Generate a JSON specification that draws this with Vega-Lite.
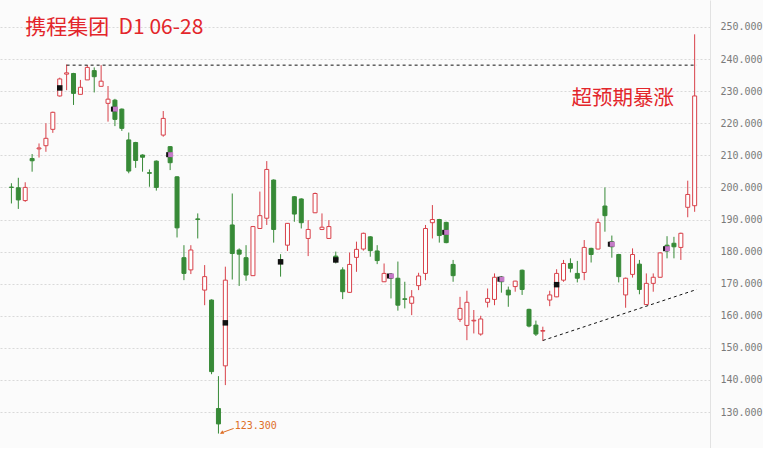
{
  "$schema": "https://vega.github.io/schema/vega-lite/v6.json",
  "width": 710,
  "height": 448,
  "padding": 0,
  "background": "#fbfbfb",
  "config": {
    "view": {"stroke": null},
    "axisX": {"labels": false, "ticks": false, "grid": false, "domainColor": "#dddddd", "title": null},
    "axisY": {"title": null, "labelOverlap": false, "labelBound": false}
  },
  "resolve": {"axis": {"y": "independent"}},
  "datasets": {
    "candles": [
      {"i":0,"o":200.1,"h":201.3,"l":195.0,"c":200.0,"t":"d"},
      {"i":1,"o":199.9,"h":203.0,"l":193.3,"c":196.1,"t":"d"},
      {"i":2,"o":195.9,"h":201.6,"l":195.5,"c":200.0,"t":"u"},
      {"i":3,"o":209.0,"h":210.4,"l":204.9,"c":208.3,"t":"d"},
      {"i":4,"o":212.0,"h":213.7,"l":209.3,"c":212.3,"t":"u"},
      {"i":5,"o":213.0,"h":220.0,"l":211.1,"c":215.3,"t":"u"},
      {"i":6,"o":218.1,"h":223.6,"l":217.0,"c":223.4,"t":"u"},
      {"i":7,"o":228.5,"h":234.2,"l":228.3,"c":233.8,"t":"u","m":231.0,"s":"k"},
      {"i":8,"o":235.3,"h":238.3,"l":230.3,"c":235.7,"t":"u"},
      {"i":9,"o":235.5,"h":235.7,"l":225.7,"c":229.3,"t":"d"},
      {"i":10,"o":229.0,"h":233.5,"l":229.0,"c":231.2,"t":"u"},
      {"i":11,"o":233.5,"h":238.1,"l":233.5,"c":237.4,"t":"u"},
      {"i":12,"o":236.4,"h":237.4,"l":229.6,"c":234.5,"t":"d"},
      {"i":13,"o":231.5,"h":238.1,"l":231.5,"c":233.1,"t":"u"},
      {"i":14,"o":226.2,"h":231.6,"l":220.5,"c":227.5,"t":"u"},
      {"i":15,"o":227.2,"h":227.6,"l":219.1,"c":221.2,"t":"d","m":224.4,"s":"p"},
      {"i":16,"o":224.4,"h":224.6,"l":217.6,"c":218.4,"t":"d"},
      {"i":17,"o":214.8,"h":217.1,"l":204.4,"c":205.1,"t":"d"},
      {"i":18,"o":214.0,"h":214.2,"l":206.1,"c":208.4,"t":"d"},
      {"i":19,"o":210.1,"h":210.3,"l":204.9,"c":209.4,"t":"d"},
      {"i":20,"o":204.6,"h":205.6,"l":200.2,"c":204.4,"t":"d"},
      {"i":21,"o":208.2,"h":208.4,"l":199.0,"c":200.0,"t":"d"},
      {"i":22,"o":216.3,"h":223.8,"l":215.8,"c":221.5,"t":"u"},
      {"i":23,"o":212.7,"h":212.9,"l":205.4,"c":207.7,"t":"d","m":210.2,"s":"p"},
      {"i":24,"o":203.3,"h":203.5,"l":184.4,"c":187.4,"t":"d"},
      {"i":25,"o":178.1,"h":182.0,"l":171.1,"c":173.2,"t":"d"},
      {"i":26,"o":174.3,"h":182.0,"l":173.0,"c":180.5,"t":"u"},
      {"i":27,"o":190.2,"h":191.9,"l":184.1,"c":190.0,"t":"d"},
      {"i":28,"o":168.0,"h":175.8,"l":163.3,"c":172.2,"t":"u"},
      {"i":29,"o":164.9,"h":165.1,"l":141.8,"c":142.6,"t":"d"},
      {"i":30,"o":131.1,"h":141.2,"l":123.3,"c":126.3,"t":"d"},
      {"i":31,"o":144.4,"h":175.3,"l":138.4,"c":171.1,"t":"u","m":157.8,"s":"k"},
      {"i":32,"o":188.3,"h":198.1,"l":171.3,"c":179.4,"t":"d"},
      {"i":33,"o":180.5,"h":181.0,"l":169.3,"c":179.2,"t":"d"},
      {"i":34,"o":178.1,"h":182.0,"l":170.9,"c":172.7,"t":"d"},
      {"i":35,"o":172.5,"h":188.0,"l":172.5,"c":187.8,"t":"u"},
      {"i":36,"o":187.2,"h":198.7,"l":187.2,"c":191.2,"t":"u"},
      {"i":37,"o":190.4,"h":208.2,"l":188.3,"c":205.6,"t":"u"},
      {"i":38,"o":202.3,"h":202.5,"l":182.8,"c":186.9,"t":"d"},
      {"i":39,"o":177.4,"h":179.2,"l":172.2,"c":176.4,"t":"d","m":176.8,"s":"k"},
      {"i":40,"o":182.0,"h":188.9,"l":180.2,"c":188.8,"t":"u"},
      {"i":41,"o":197.1,"h":197.3,"l":189.3,"c":191.7,"t":"d"},
      {"i":42,"o":196.4,"h":196.6,"l":187.2,"c":189.0,"t":"d"},
      {"i":43,"o":184.1,"h":189.8,"l":178.6,"c":186.9,"t":"u"},
      {"i":44,"o":192.1,"h":198.4,"l":192.0,"c":198.1,"t":"u"},
      {"i":45,"o":186.9,"h":191.9,"l":186.7,"c":187.6,"t":"u"},
      {"i":46,"o":184.1,"h":189.8,"l":184.0,"c":187.8,"t":"u"},
      {"i":47,"o":178.6,"h":180.0,"l":176.3,"c":177.4,"t":"d","m":177.4,"s":"k"},
      {"i":48,"o":174.3,"h":175.1,"l":165.2,"c":167.5,"t":"d"},
      {"i":49,"o":167.3,"h":179.7,"l":167.2,"c":176.0,"t":"u"},
      {"i":50,"o":178.2,"h":183.1,"l":173.7,"c":180.7,"t":"u"},
      {"i":51,"o":180.8,"h":185.9,"l":180.3,"c":185.7,"t":"u"},
      {"i":52,"o":184.6,"h":184.8,"l":178.4,"c":180.3,"t":"d"},
      {"i":53,"o":180.2,"h":182.0,"l":176.1,"c":177.2,"t":"d"},
      {"i":54,"o":170.6,"h":176.3,"l":170.5,"c":173.2,"t":"u"},
      {"i":55,"o":173.0,"h":173.3,"l":165.4,"c":171.7,"t":"d","m":172.4,"s":"p"},
      {"i":56,"o":171.7,"h":176.9,"l":161.6,"c":163.3,"t":"d"},
      {"i":57,"o":165.3,"h":170.6,"l":162.3,"c":165.1,"t":"d"},
      {"i":58,"o":163.9,"h":168.0,"l":160.2,"c":165.9,"t":"u"},
      {"i":59,"o":169.4,"h":173.4,"l":168.0,"c":172.4,"t":"u"},
      {"i":60,"o":173.2,"h":188.3,"l":171.1,"c":187.2,"t":"u"},
      {"i":61,"o":189.0,"h":194.5,"l":184.1,"c":190.0,"t":"u"},
      {"i":62,"o":190.0,"h":190.2,"l":182.8,"c":185.0,"t":"d"},
      {"i":63,"o":189.1,"h":189.3,"l":182.6,"c":182.8,"t":"d","m":186.0,"s":"p"},
      {"i":64,"o":176.0,"h":177.4,"l":170.6,"c":172.5,"t":"d"},
      {"i":65,"o":158.9,"h":165.9,"l":158.1,"c":162.3,"t":"u"},
      {"i":66,"o":157.0,"h":167.8,"l":152.4,"c":164.2,"t":"u"},
      {"i":67,"o":158.4,"h":161.8,"l":154.5,"c":158.6,"t":"u"},
      {"i":68,"o":154.3,"h":160.0,"l":153.8,"c":159.0,"t":"u"},
      {"i":69,"o":164.2,"h":168.5,"l":162.6,"c":165.4,"t":"u"},
      {"i":70,"o":165.1,"h":173.2,"l":163.3,"c":172.0,"t":"u"},
      {"i":71,"o":172.1,"h":172.4,"l":167.2,"c":170.6,"t":"d","m":171.4,"s":"p"},
      {"i":72,"o":168.0,"h":169.1,"l":162.8,"c":166.5,"t":"d"},
      {"i":73,"o":169.1,"h":170.9,"l":167.5,"c":170.8,"t":"u"},
      {"i":74,"o":174.2,"h":174.4,"l":166.5,"c":168.2,"t":"d"},
      {"i":75,"o":162.0,"h":162.2,"l":156.4,"c":156.8,"t":"d"},
      {"i":76,"o":157.1,"h":158.5,"l":153.7,"c":154.3,"t":"d"},
      {"i":77,"o":155.2,"h":156.6,"l":152.2,"c":155.4,"t":"u"},
      {"i":78,"o":164.9,"h":167.8,"l":163.0,"c":166.5,"t":"u"},
      {"i":79,"o":165.9,"h":174.5,"l":165.8,"c":173.2,"t":"u","m":169.7,"s":"k"},
      {"i":80,"o":171.1,"h":177.4,"l":170.6,"c":176.3,"t":"u"},
      {"i":81,"o":176.3,"h":177.9,"l":173.5,"c":174.8,"t":"d"},
      {"i":82,"o":173.2,"h":177.1,"l":170.4,"c":171.7,"t":"d"},
      {"i":83,"o":173.5,"h":183.6,"l":171.1,"c":181.3,"t":"u"},
      {"i":84,"o":181.0,"h":181.2,"l":176.6,"c":179.1,"t":"d"},
      {"i":85,"o":180.8,"h":190.3,"l":180.7,"c":189.1,"t":"u"},
      {"i":86,"o":194.2,"h":200.0,"l":186.2,"c":191.2,"t":"d"},
      {"i":87,"o":183.1,"h":185.0,"l":178.1,"c":181.5,"t":"d","m":182.3,"s":"p"},
      {"i":88,"o":179.1,"h":179.3,"l":170.4,"c":172.2,"t":"d"},
      {"i":89,"o":166.5,"h":171.9,"l":162.5,"c":171.7,"t":"u"},
      {"i":90,"o":172.9,"h":181.0,"l":171.9,"c":179.1,"t":"u"},
      {"i":91,"o":176.1,"h":177.4,"l":166.7,"c":168.2,"t":"d"},
      {"i":92,"o":163.5,"h":173.2,"l":163.4,"c":170.1,"t":"u"},
      {"i":93,"o":170.1,"h":173.2,"l":167.5,"c":172.0,"t":"u"},
      {"i":94,"o":172.0,"h":179.8,"l":171.9,"c":179.6,"t":"u"},
      {"i":95,"o":182.0,"h":184.8,"l":177.9,"c":180.2,"t":"d","m":180.9,"s":"p"},
      {"i":96,"o":182.6,"h":184.6,"l":177.9,"c":181.5,"t":"d"},
      {"i":97,"o":181.3,"h":185.9,"l":177.4,"c":185.7,"t":"u"},
      {"i":98,"o":193.8,"h":202.1,"l":190.7,"c":197.8,"t":"u"},
      {"i":99,"o":194.3,"h":247.7,"l":192.4,"c":228.5,"t":"u"}
    ],
    "levels": [
      {"i":8,"i2":99.3,"y":238.1,"y2":238.1},
      {"i":77,"i2":99.3,"y":152.3,"y2":168.2}
    ]
  },
  "layer": [
    {
      "data": {"name": "candles"},
      "mark": {"type": "rule", "strokeWidth": 1},
      "encoding": {
        "x": {"field": "i", "type": "quantitative", "scale": {"domain": [-0.929, 100.5], "nice": false, "zero": false}},
        "y": {"field": "l", "type": "quantitative",
              "scale": {"domain": [118.8, 258.4], "nice": false, "zero": false},
              "axis": {"orient": "right", "values": [130,140,150,160,170,180,190,200,210,220,230,240,250],
                       "format": ".3f", "labelFont": "DejaVu Sans Mono", "labelFontSize": 10, "labelColor": "#7a7a7a",
                       "labelPadding": 10, "labelOverlap": false, "ticks": false, "domainColor": "#e2e2e2",
                       "grid": true, "gridColor": "#d9d9d9", "gridDash": [2, 2], "gridWidth": 1}},
        "y2": {"field": "h"},
        "color": {"field": "t", "type": "nominal", "scale": {"domain": ["u", "d"], "range": ["#d8414a", "#378a37"]}, "legend": null}
      }
    },
    {
      "data": {"name": "candles"},
      "mark": {"type": "bar", "width": 4, "strokeWidth": 1},
      "encoding": {
        "x": {"field": "i", "type": "quantitative"},
        "y": {"field": "o", "type": "quantitative", "axis": null},
        "y2": {"field": "c"},
        "fill": {"field": "t", "type": "nominal", "scale": {"domain": ["u", "d"], "range": ["#ffffff", "#378a37"]}, "legend": null},
        "stroke": {"field": "t", "type": "nominal", "scale": {"domain": ["u", "d"], "range": ["#d8414a", "#378a37"]}, "legend": null}
      }
    },
    {
      "data": {"name": "candles"},
      "transform": [{"filter": "datum.s === 'k'"}],
      "mark": {"type": "point", "shape": "square", "filled": true, "size": 30, "color": "#111111", "opacity": 1},
      "encoding": {
        "x": {"field": "i", "type": "quantitative"},
        "y": {"field": "m", "type": "quantitative", "axis": null}
      }
    },
    {
      "data": {"name": "candles"},
      "transform": [{"filter": "datum.s === 'p'"}],
      "mark": {"type": "point", "shape": "square", "filled": true, "size": 25, "color": "#111111", "opacity": 1, "xOffset": -1.5},
      "encoding": {
        "x": {"field": "i", "type": "quantitative"},
        "y": {"field": "m", "type": "quantitative", "axis": null}
      }
    },
    {
      "data": {"name": "candles"},
      "transform": [{"filter": "datum.s === 'p'"}],
      "mark": {"type": "point", "shape": "square", "filled": true, "size": 25, "color": "#c57ac8", "opacity": 1, "xOffset": 0.5},
      "encoding": {
        "x": {"field": "i", "type": "quantitative"},
        "y": {"field": "m", "type": "quantitative", "axis": null}
      }
    },
    {
      "data": {"name": "levels"},
      "mark": {"type": "rule", "color": "#111111", "strokeWidth": 1, "strokeDash": [3, 3]},
      "encoding": {
        "x": {"field": "i", "type": "quantitative"},
        "x2": {"field": "i2"},
        "y": {"field": "y", "type": "quantitative", "axis": null},
        "y2": {"field": "y2"}
      }
    },
    {
      "data": {"values": [{"i": 30.3, "y": 123.4, "i2": 32.2, "y2": 124.9}]},
      "mark": {"type": "rule", "color": "#de6f27", "strokeWidth": 1},
      "encoding": {
        "x": {"field": "i", "type": "quantitative"},
        "x2": {"field": "i2"},
        "y": {"field": "y", "type": "quantitative", "axis": null},
        "y2": {"field": "y2"}
      }
    },
    {
      "data": {"values": [{"i": 30.55, "y": 123.6}]},
      "mark": {"type": "point", "shape": "triangle", "filled": true, "size": 16, "angle": 243, "color": "#de6f27", "opacity": 1},
      "encoding": {
        "x": {"field": "i", "type": "quantitative"},
        "y": {"field": "y", "type": "quantitative", "axis": null}
      }
    },
    {
      "data": {"values": [{"i": 32.36, "y": 125.6, "txt": "123.300"}]},
      "mark": {"type": "text", "align": "left", "baseline": "middle", "font": "DejaVu Sans Mono", "fontSize": 10, "color": "#de6f27"},
      "encoding": {
        "x": {"field": "i", "type": "quantitative"},
        "y": {"field": "y", "type": "quantitative", "axis": null},
        "text": {"field": "txt"}
      }
    },
    {
      "data": {"values": [{"i": 2.0, "y": 247.8, "txt": "携程集团\u00a0\u00a0D1 06-28"}]},
      "mark": {"type": "text", "align": "left", "baseline": "alphabetic", "font": "Noto Sans CJK SC", "fontSize": 21, "color": "#e3262b"},
      "encoding": {
        "x": {"field": "i", "type": "quantitative"},
        "y": {"field": "y", "type": "quantitative", "axis": null},
        "text": {"field": "txt"}
      }
    },
    {
      "data": {"values": [{"i": 81.15, "y": 225.8, "txt": "超预期暴涨"}]},
      "mark": {"type": "text", "align": "left", "baseline": "alphabetic", "font": "Noto Sans CJK SC", "fontSize": 20.5, "color": "#e3262b"},
      "encoding": {
        "x": {"field": "i", "type": "quantitative"},
        "y": {"field": "y", "type": "quantitative", "axis": null},
        "text": {"field": "txt"}
      }
    }
  ]
}
